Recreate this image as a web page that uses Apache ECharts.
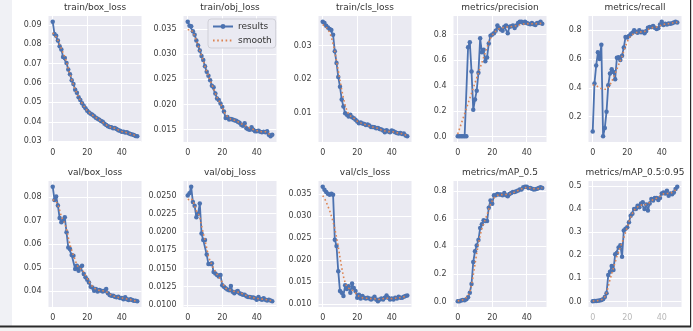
<!DOCTYPE html>
<html><head><meta charset="utf-8">
<script src="https://cdn.jsdelivr.net/npm/echarts@6/dist/echarts.min.js"></script>
<style>html,body{margin:0;padding:0;background:#fff}#c{width:693px;height:331px}</style>
</head><body><div id="c"></div><script>
// ---------- data ----------
const epochs = [0,1,2,3,4,5,6,7,8,9,10,11,12,13,14,15,16,17,18,19,20,21,22,23,24,25,26,27,28,29,30,31,32,33,34,35,36,37,38,39,40,41,42,43,44,45,46,47,48,49];
const xTicks = [0,20,40];

const trainBoxLoss = [0.0917,0.0854,0.0845,0.0820,0.0790,0.0774,0.0735,0.0730,0.0704,0.0670,
0.0645,0.0615,0.0595,0.0565,0.0550,0.0527,0.0513,0.0496,0.0482,0.0470,
0.0457,0.0448,0.0441,0.0436,0.0428,0.0421,0.0416,0.0410,0.0404,0.0400,
0.0390,0.0383,0.0377,0.0373,0.0371,0.0366,0.0368,0.0363,0.0356,0.0354,
0.0349,0.0348,0.0344,0.0346,0.0341,0.0337,0.0334,0.0332,0.0327,0.0325];
const trainBoxLossSmooth = [0.0860,0.0850,0.0838,0.0822,0.0800,0.0778,0.0757,0.0735,0.0708,0.0678,
0.0647,0.0618,0.0592,0.0567,0.0547,0.0528,0.0511,0.0496,0.0482,0.0470,
0.0458,0.0448,0.0441,0.0435,0.0428,0.0422,0.0416,0.0410,0.0404,0.0398,
0.0391,0.0384,0.0378,0.0374,0.0370,0.0368,0.0366,0.0362,0.0358,0.0354,
0.0350,0.0348,0.0346,0.0344,0.0341,0.0338,0.0335,0.0332,0.0329,0.0326];

const trainObjLoss = [0.0364,0.0356,0.0355,0.0345,0.0338,0.0327,0.0317,0.0307,0.0296,0.0288,
0.0276,0.0265,0.0257,0.0248,0.0237,0.0234,0.0222,0.0212,0.0209,0.0202,
0.0195,0.0186,0.0173,0.0175,0.0170,0.0171,0.0170,0.0169,0.0168,0.0166,
0.0164,0.0160,0.0158,0.0163,0.0153,0.0151,0.0150,0.0155,0.0150,0.0147,
0.0147,0.0148,0.0146,0.0145,0.0146,0.0145,0.0147,0.0140,0.0137,0.0140];
const trainObjLossSmooth = [0.0348,0.0350,0.0348,0.0343,0.0336,0.0327,0.0317,0.0307,0.0297,0.0287,
0.0276,0.0266,0.0257,0.0248,0.0239,0.0232,0.0222,0.0214,0.0208,0.0202,
0.0195,0.0186,0.0180,0.0176,0.0173,0.0171,0.0170,0.0169,0.0168,0.0166,
0.0164,0.0162,0.0160,0.0159,0.0157,0.0155,0.0153,0.0152,0.0151,0.0149,
0.0148,0.0147,0.0147,0.0146,0.0146,0.0146,0.0145,0.0142,0.0140,0.0139];

const trainClsLoss = [0.0371,0.0367,0.0359,0.0354,0.0349,0.0346,0.0332,0.0283,0.0248,0.0206,
0.0177,0.0139,0.0118,0.0098,0.0093,0.0088,0.0093,0.0086,0.0083,0.0078,
0.0073,0.0068,0.0070,0.0067,0.0066,0.0063,0.0064,0.0061,0.0057,0.0057,
0.0056,0.0053,0.0054,0.0051,0.0049,0.0046,0.0041,0.0047,0.0043,0.0041,
0.0046,0.0044,0.0041,0.0039,0.0037,0.0039,0.0036,0.0037,0.0031,0.0029];
const trainClsLossSmooth = [0.0362,0.0360,0.0355,0.0348,0.0339,0.0325,0.0305,0.0282,0.0254,0.0225,
0.0196,0.0168,0.0143,0.0122,0.0106,0.0096,0.0090,0.0087,0.0083,0.0079,
0.0074,0.0071,0.0069,0.0067,0.0065,0.0064,0.0062,0.0060,0.0058,0.0057,
0.0055,0.0054,0.0053,0.0051,0.0048,0.0046,0.0045,0.0044,0.0043,0.0043,
0.0043,0.0043,0.0041,0.0039,0.0038,0.0038,0.0037,0.0035,0.0033,0.0031];

const precision = [0.003,0.003,0.003,0.003,0.003,0.003,0.70,0.74,0.51,0.21,
0.29,0.36,0.50,0.77,0.66,0.68,0.59,0.62,0.73,0.79,
0.80,0.81,0.83,0.87,0.85,0.84,0.83,0.86,0.87,0.81,
0.86,0.865,0.87,0.85,0.87,0.89,0.90,0.90,0.89,0.90,
0.89,0.885,0.88,0.89,0.88,0.875,0.89,0.89,0.90,0.885];
const precisionSmooth = [0.02,0.06,0.10,0.14,0.18,0.22,0.26,0.30,0.34,0.38,
0.42,0.46,0.50,0.54,0.58,0.62,0.66,0.70,0.74,0.77,
0.795,0.81,0.825,0.835,0.845,0.85,0.853,0.856,0.858,0.86,
0.86,0.862,0.864,0.866,0.868,0.872,0.876,0.88,0.882,0.884,
0.885,0.885,0.885,0.885,0.884,0.884,0.885,0.886,0.887,0.887];

const recall = [0.097,0.43,0.555,0.647,0.60,0.70,0.063,0.12,0.234,0.418,
0.50,0.53,0.51,0.46,0.61,0.612,0.594,0.624,0.68,0.754,
0.75,0.76,0.772,0.784,0.80,0.79,0.784,0.80,0.786,0.79,
0.78,0.795,0.818,0.823,0.823,0.83,0.818,0.81,0.814,0.84,
0.86,0.837,0.846,0.84,0.848,0.846,0.85,0.855,0.86,0.855];
const recallSmooth = [0.42,0.42,0.415,0.41,0.40,0.395,0.39,0.385,0.39,0.40,
0.42,0.445,0.47,0.50,0.53,0.56,0.59,0.62,0.655,0.69,
0.72,0.745,0.76,0.77,0.78,0.785,0.787,0.788,0.789,0.79,
0.792,0.797,0.805,0.812,0.818,0.82,0.82,0.822,0.826,0.832,
0.838,0.842,0.844,0.845,0.847,0.849,0.851,0.853,0.855,0.856];

const valBoxLoss = [0.0845,0.0789,0.0803,0.0765,0.0712,0.0694,0.0701,0.0715,0.0651,0.0587,
0.0580,0.0555,0.0552,0.0495,0.0509,0.0488,0.0502,0.0509,0.0474,0.0460,
0.0450,0.0438,0.0420,0.0417,0.0403,0.0410,0.0400,0.0406,0.0403,0.0400,
0.0403,0.0410,0.0392,0.0385,0.0382,0.0382,0.0377,0.0375,0.0377,0.0372,
0.0372,0.0367,0.0375,0.0367,0.0363,0.0367,0.0363,0.0360,0.0360,0.0358];
const valBoxLossSmooth = [0.0790,0.0788,0.0782,0.0768,0.0745,0.0718,0.0703,0.0690,0.0665,0.0630,
0.0598,0.0575,0.0553,0.0533,0.0513,0.0500,0.0497,0.0494,0.0482,0.0468,
0.0455,0.0442,0.0431,0.0421,0.0414,0.0409,0.0406,0.0404,0.0403,0.0403,
0.0402,0.0399,0.0394,0.0388,0.0384,0.0381,0.0378,0.0376,0.0375,0.0373,
0.0372,0.0371,0.0369,0.0368,0.0366,0.0365,0.0363,0.0361,0.0360,0.0358];

const valObjLoss = [0.0250,0.0253,0.0262,0.0241,0.0236,0.0220,0.0225,0.0239,0.0198,0.0189,
0.0189,0.0169,0.0156,0.0156,0.0157,0.0145,0.0143,0.0141,0.0139,0.0141,
0.0127,0.0125,0.0123,0.0121,0.0120,0.0126,0.0118,0.0116,0.0118,0.0119,
0.0116,0.0115,0.0114,0.0114,0.0112,0.0111,0.0111,0.0110,0.0110,0.0109,
0.0107,0.0111,0.0108,0.0107,0.0109,0.0107,0.0106,0.0107,0.0106,0.0105];
const valObjLossSmooth = [0.0244,0.0245,0.0246,0.0243,0.0236,0.0229,0.0226,0.0220,0.0209,0.0198,
0.0189,0.0178,0.0167,0.0160,0.0155,0.0150,0.0146,0.0142,0.0139,0.0135,
0.0131,0.0126,0.0123,0.0122,0.0121,0.0120,0.0119,0.0118,0.0118,0.0117,
0.0117,0.0116,0.0115,0.0114,0.0113,0.0112,0.0111,0.0110,0.0110,0.0109,
0.0109,0.0109,0.0108,0.0108,0.0108,0.0107,0.0107,0.0106,0.0106,0.0105];

const valClsLoss = [0.0366,0.0359,0.0354,0.0350,0.0348,0.0350,0.0348,0.0246,0.0232,0.0175,
0.0130,0.0126,0.0119,0.0143,0.0135,0.0141,0.0126,0.0147,0.0137,0.0130,
0.0115,0.0122,0.0113,0.0119,0.0115,0.0113,0.0115,0.0113,0.0111,0.0113,
0.0117,0.0111,0.0107,0.0111,0.0113,0.0111,0.0115,0.0120,0.0115,0.0111,
0.0113,0.0111,0.0115,0.0113,0.0117,0.0115,0.0115,0.0117,0.0119,0.0120];
const valClsLossSmooth = [0.0346,0.0340,0.0332,0.0322,0.0312,0.0300,0.0287,0.0271,0.0252,0.0230,
0.0206,0.0183,0.0163,0.0149,0.0140,0.0136,0.0134,0.0133,0.0130,0.0126,
0.0121,0.0118,0.0116,0.0115,0.0114,0.0114,0.0114,0.0113,0.0113,0.0113,
0.0113,0.0112,0.0111,0.0111,0.0112,0.0113,0.0114,0.0115,0.0114,0.0113,
0.0113,0.0113,0.0114,0.0114,0.0115,0.0115,0.0116,0.0117,0.0118,0.0119];

const mAP50 = [0.002,0.002,0.007,0.012,0.010,0.017,0.031,0.064,0.127,0.287,
0.365,0.406,0.447,0.533,0.561,0.590,0.585,0.585,0.680,0.733,
0.709,0.771,0.771,0.781,0.776,0.776,0.771,0.788,0.771,0.764,
0.781,0.788,0.795,0.795,0.800,0.805,0.812,0.812,0.829,0.833,
0.833,0.824,0.824,0.819,0.812,0.814,0.819,0.824,0.829,0.824];
const mAP50Smooth = [0.005,0.006,0.008,0.012,0.018,0.027,0.042,0.07,0.12,0.19,
0.27,0.35,0.42,0.48,0.53,0.565,0.595,0.63,0.67,0.705,
0.73,0.75,0.765,0.772,0.775,0.776,0.776,0.777,0.777,0.778,
0.780,0.784,0.789,0.795,0.80,0.806,0.812,0.818,0.823,0.826,
0.828,0.827,0.824,0.821,0.818,0.817,0.818,0.82,0.823,0.825];

const mAP5095 = [0.001,0.002,0.002,0.003,0.004,0.007,0.010,0.019,0.036,0.114,
0.129,0.153,0.136,0.204,0.210,0.233,0.243,0.193,0.307,0.314,
0.321,0.343,0.371,0.379,0.400,0.400,0.414,0.407,0.424,0.429,
0.400,0.419,0.393,0.424,0.443,0.436,0.447,0.447,0.439,0.447,
0.467,0.471,0.467,0.479,0.457,0.467,0.464,0.471,0.486,0.496];
const mAP5095Smooth = [0.002,0.003,0.003,0.004,0.005,0.007,0.011,0.02,0.038,0.065,
0.094,0.12,0.145,0.17,0.195,0.215,0.235,0.255,0.275,0.298,
0.322,0.345,0.365,0.381,0.394,0.403,0.41,0.415,0.417,0.418,
0.418,0.419,0.422,0.428,0.435,0.441,0.444,0.446,0.449,0.455,
0.461,0.465,0.467,0.467,0.466,0.467,0.47,0.476,0.483,0.488];

const titles = ['train/box_loss','train/obj_loss','train/cls_loss','metrics/precision','metrics/recall',
                'val/box_loss','val/obj_loss','val/cls_loss','metrics/mAP_0.5','metrics/mAP_0.5:0.95'];
const yTicksTrainBox = [0.03,0.04,0.05,0.06,0.07,0.08,0.09];
const yTicksTrainObj = [0.015,0.020,0.025,0.030,0.035];
const yTicksTrainCls = [0.01,0.02,0.03];
const yTicksPrecision = [0.0,0.2,0.4,0.6,0.8];
const yTicksRecall = [0.2,0.4,0.6,0.8];
const yTicksValBox = [0.04,0.05,0.06,0.07,0.08];
const yTicksValObj = [0.0100,0.0125,0.0150,0.0175,0.0200,0.0225,0.0250];
const yTicksValCls = [0.010,0.015,0.020,0.025,0.030,0.035];
const yTicksMAP50 = [0.0,0.2,0.4,0.6,0.8];
const yTicksMAP5095 = [0.0,0.1,0.2,0.3,0.4,0.5];
const yDecimals = [2,3,2,1,1,2,4,3,1,1];

const resultsSeries = [trainBoxLoss,trainObjLoss,trainClsLoss,precision,recall,valBoxLoss,valObjLoss,valClsLoss,mAP50,mAP5095];
const smoothSeries = [trainBoxLossSmooth,trainObjLossSmooth,trainClsLossSmooth,precisionSmooth,recallSmooth,valBoxLossSmooth,valObjLossSmooth,valClsLossSmooth,mAP50Smooth,mAP5095Smooth];
const yTickSets = [yTicksTrainBox,yTicksTrainObj,yTicksTrainCls,yTicksPrecision,yTicksRecall,yTicksValBox,yTicksValObj,yTicksValCls,yTicksMAP50,yTicksMAP5095];

// ---------- layout / style ----------
const colLeft = [48.5,183.5,318.5,453.5,588.5];
const rowTop = [16,181];
const W = 93, H = 126;
const blue = '#4c72b0', orange = '#dd8452', textCol = '#3c3c3c';
const FONT = '"DejaVu Sans", sans-serif';

const chart = echarts.init(document.getElementById('c'), null, {renderer:'canvas'});
const grids = [], xAxes = [], yAxes = [], series = [], graphics = [];

const xlo = Math.min(...epochs), xhi = Math.max(...epochs), xpad = (xhi - xlo) * 0.05;

for (let i = 0; i < 10; i++) {
  const r = Math.floor(i / 5), c = i % 5;
  grids.push({left: colLeft[c], top: rowTop[r], width: W, height: H, show: true,
    backgroundColor: '#eaeaf2', borderWidth: 0, containLabel: false});
  xAxes.push({gridIndex: i, type: 'value', min: xlo - xpad, max: xhi + xpad,
    axisLine: {show: false}, axisTick: {show: false, customValues: xTicks},
    axisLabel: {customValues: xTicks, fontSize: 8, fontFamily: FONT, color: i === 9 ? '#b8b8b8' : textCol, margin: 7},
    splitLine: {show: true, lineStyle: {color: '#ffffff', width: 1}}});
  const all = resultsSeries[i].concat(smoothSeries[i]);
  const lo = Math.min(...all), hi = Math.max(...all), pad = (hi - lo) * 0.05;
  const dec = yDecimals[i];
  yAxes.push({gridIndex: i, type: 'value', min: lo - pad, max: hi + pad,
    axisLine: {show: false}, axisTick: {show: false, customValues: yTickSets[i]},
    axisLabel: {customValues: yTickSets[i], fontSize: 8, fontFamily: FONT, color: textCol, margin: 7,
      formatter: v => Number(v).toFixed(dec)},
    splitLine: {show: true, lineStyle: {color: '#ffffff', width: 1}}});
  series.push({name: 'results', type: 'line', xAxisIndex: i, yAxisIndex: i,
    data: epochs.map((e, j) => [e, resultsSeries[i][j]]),
    symbol: 'circle', symbolSize: 4.5, showSymbol: true,
    lineStyle: {color: blue, width: 1.8}, itemStyle: {color: blue}, z: 2, animation: false});
  series.push({name: 'smooth', type: 'line', xAxisIndex: i, yAxisIndex: i,
    data: epochs.map((e, j) => [e, smoothSeries[i][j]]),
    symbol: 'none', lineStyle: {color: orange, width: 1.6, type: [1.6, 2.6]}, itemStyle: {color: orange}, z: 3, animation: false});
  graphics.push({type: 'text', x: colLeft[c] + W / 2, y: r === 0 ? 7.5 : 172.5, z: 10,
    style: {text: titles[i], textAlign: 'center', textVerticalAlign: 'middle', font: '9px ' + FONT, fill: '#333'}});
}

// frame decorations
graphics.push({type: 'rect', shape: {x: 0, y: 0, width: 12, height: 326}, style: {fill: '#f0f1f5'}, z: -1});
graphics.push({type: 'rect', shape: {x: 0, y: 327.5, width: 693, height: 4}, style: {fill: '#f2f2f2'}, z: -1});
graphics.push({type: 'rect', shape: {x: 0, y: 325.5, width: 691, height: 2}, style: {fill: '#2a2a2a'}, z: 20});
graphics.push({type: 'rect', shape: {x: 690, y: 0, width: 1.2, height: 327}, style: {fill: '#2a2a2a'}, z: 20});

chart.setOption({
  animation: false,
  backgroundColor: '#ffffff',
  grid: grids, xAxis: xAxes, yAxis: yAxes, series: series,
  legend: {data: [{name: 'results'}, {name: 'smooth', itemStyle: {opacity: 0}}], orient: 'vertical', left: 208, top: 19,
    itemWidth: 20, itemHeight: 6, itemGap: 5, padding: [3, 4, 3, 4],
    backgroundColor: '#eaeaf2', borderColor: '#d0d0d8', borderWidth: 1, borderRadius: 3,
    textStyle: {fontSize: 9, fontFamily: FONT, color: '#333', padding: [0, 0, 0, 0]}},
  graphic: graphics
});
</script></body></html>
